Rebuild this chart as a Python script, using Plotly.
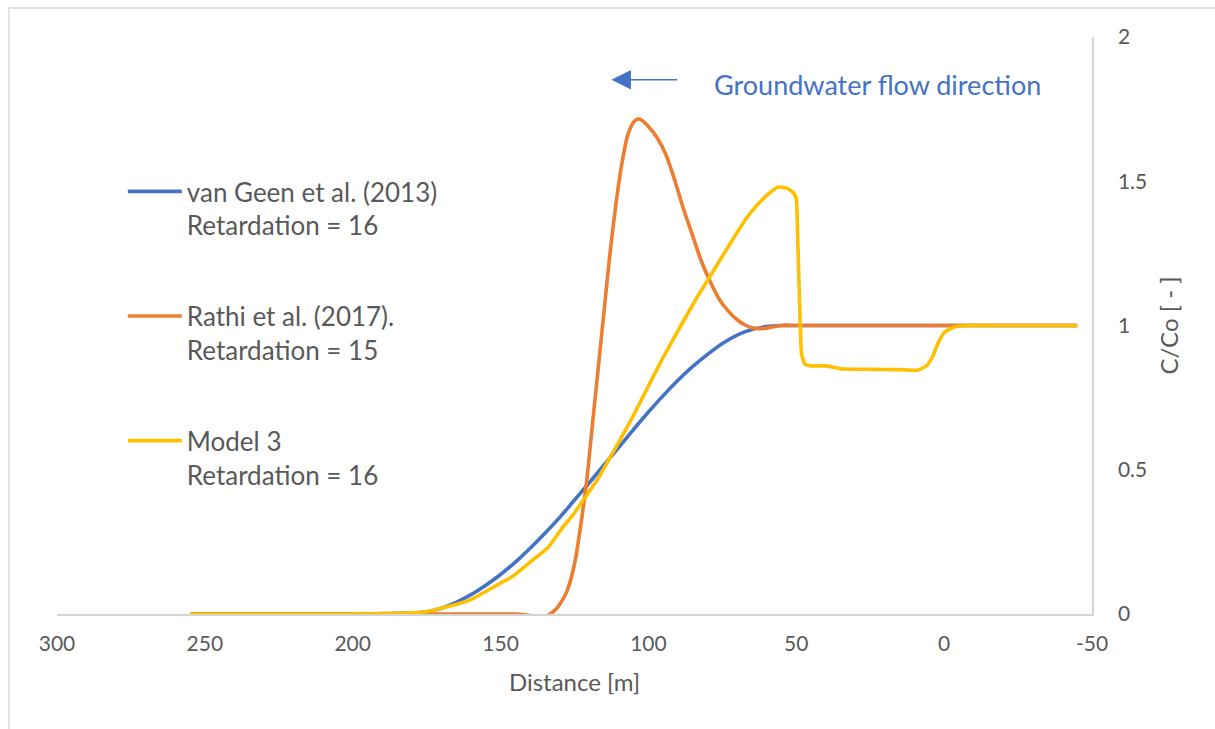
import plotly.graph_objects as go

# ---------------- data ----------------
x_vangeen = [255, 230, 200, 185, 175, 170, 165, 160, 155, 150, 145, 140, 135, 130, 125,
             120, 115, 110, 105, 100, 95, 90, 85, 80, 75, 70, 65, 60, 55, 50, 40, 20,
             0, -20, -45]
y_vangeen = [0, 0, 0, 0.002, 0.008, 0.02, 0.04, 0.067, 0.10, 0.137, 0.18, 0.228, 0.28,
             0.335, 0.395, 0.455, 0.517, 0.578, 0.64, 0.70, 0.757, 0.81, 0.858, 0.90,
             0.938, 0.967, 0.986, 0.996, 1.0, 1.0, 1.0, 1.0, 1.0, 1.0, 1.0]

x_rathi = [255, 200, 160, 150, 145, 140, 137, 134, 131, 129, 127.5, 126, 124.5, 123,
           121, 119, 117, 115, 113, 111, 109, 107, 105, 103.5, 102, 100, 97, 94, 91,
           88, 85, 82, 79, 76, 73, 70, 67, 64, 61, 58, 55, 50, 30, 0, -20, -45]
y_rathi = [0, 0, 0, 0, 0, -0.005, -0.01, -0.005, 0.02, 0.05, 0.08, 0.13, 0.2, 0.3,
           0.45, 0.65, 0.85, 1.05, 1.25, 1.42, 1.56, 1.66, 1.705, 1.716, 1.71, 1.69,
           1.65, 1.59, 1.50, 1.40, 1.31, 1.22, 1.15, 1.09, 1.05, 1.02, 1.0, 0.99,
           0.99, 0.995, 1.0, 1.0, 1.0, 1.0, 1.0, 1.0]

x_model3 = [255, 230, 200, 185, 175, 168, 160, 153, 146, 140, 134, 129, 125, 121, 117,
            112, 106, 100, 95, 89, 84, 78, 72, 67, 63, 59, 56, 53, 51, 50, 49.5, 48.8,
            48.2, 47, 45, 40, 35, 25, 15, 9, 6, 4, 2, 0, -3, -8, -20, -35, -45]
y_model3 = [0, 0, 0, 0.002, 0.008, 0.025, 0.05, 0.09, 0.13, 0.18, 0.23, 0.30, 0.35,
            0.41, 0.47, 0.56, 0.67, 0.79, 0.89, 1.00, 1.09, 1.19, 1.29, 1.37, 1.42,
            1.46, 1.48, 1.475, 1.46, 1.44, 1.30, 1.05, 0.90, 0.865, 0.86, 0.86, 0.85,
            0.848, 0.847, 0.845, 0.86, 0.89, 0.94, 0.975, 0.993, 1.0, 1.0, 1.0, 1.0]

series_names = ["van Geen et al. (2013)<br>Retardation = 16",
                "Rathi et al. (2017).<br>Retardation = 15",
                "Model 3<br>Retardation = 16"]
series_colors = ["#4472C4", "#ED7D31", "#FFC000"]

x_tick_vals = [300, 250, 200, 150, 100, 50, 0, -50]
x_tick_text = ["300", "250", "200", "150", "100", "50", "0", "-50"]
y_tick_vals = [0, 0.5, 1, 1.5, 2]
y_tick_text = ["0", "0.5", "1", "1.5", "2"]

# ---------------- figure ----------------
FONT = "Lato"
GREY = "#595959"
smooth = [1.1, 0.7, 0.4]

fig = go.Figure()
for i, (xs, ys) in enumerate([(x_vangeen, y_vangeen), (x_rathi, y_rathi),
                              (x_model3, y_model3)]):
    fig.add_trace(go.Scatter(
        x=xs, y=ys, mode="lines", name=series_names[i],
        legendgroup=f"g{i}",
        line=dict(color=series_colors[i], width=3.6, shape="spline",
                  smoothing=smooth[i]),
        hoverinfo="skip",
    ))

fig.update_layout(
    width=1215, height=729,
    margin=dict(l=57, r=123, t=37, b=115),
    paper_bgcolor="white", plot_bgcolor="white",
    font=dict(family=FONT, color=GREY, size=21),
    showlegend=True,
    legend=dict(
        x=0.0636, y=0.773, xanchor="left", yanchor="top",
        bgcolor="rgba(0,0,0,0)", font=dict(size=26, color=GREY, family=FONT),
        tracegroupgap=54, valign="top", itemwidth=54,
    ),
    xaxis=dict(
        range=[300, -50], tickvals=x_tick_vals, ticktext=x_tick_text,
        showgrid=False, zeroline=False, showline=True, linecolor="#D4D4D4",
        linewidth=1.5, ticks="", ticklabelstandoff=10,
        tickfont=dict(size=21, color=GREY),
        title=dict(text="Distance [m]", font=dict(size=24, color=GREY), standoff=20),
    ),
    yaxis=dict(
        range=[0, 2], side="right", tickvals=y_tick_vals, ticktext=y_tick_text,
        showgrid=False, zeroline=False, showline=True, linecolor="#D4D4D4",
        linewidth=1.5, ticks="", ticklabelstandoff=20,
        tickfont=dict(size=21, color=GREY),
        title=dict(text="C/Co [ - ]", font=dict(size=24, color=GREY), standoff=15),
    ),
    shapes=[dict(type="rect", xref="paper", yref="paper",
                 x0=-0.0464, x1=1.125, y0=-0.205, y1=1.0503,
                 line=dict(color="#D9D9D9", width=1.5), fillcolor="rgba(0,0,0,0)",
                 layer="below")],
    annotations=[
        dict(x=112.5, y=1.852, ax=89.8, ay=1.852, xref="x", yref="y",
             axref="x", ayref="y", text="", showarrow=True, arrowhead=2,
             arrowsize=2.6, arrowwidth=1.5, arrowcolor="#4472C4"),
        dict(x=78.6, y=1.835, xref="x", yref="y", xanchor="left", yanchor="middle",
             text="Groundwater flow direction", showarrow=False,
             font=dict(size=27, color="#4472C4", family=FONT)),
    ],
)

fig.write_html("out.html")
